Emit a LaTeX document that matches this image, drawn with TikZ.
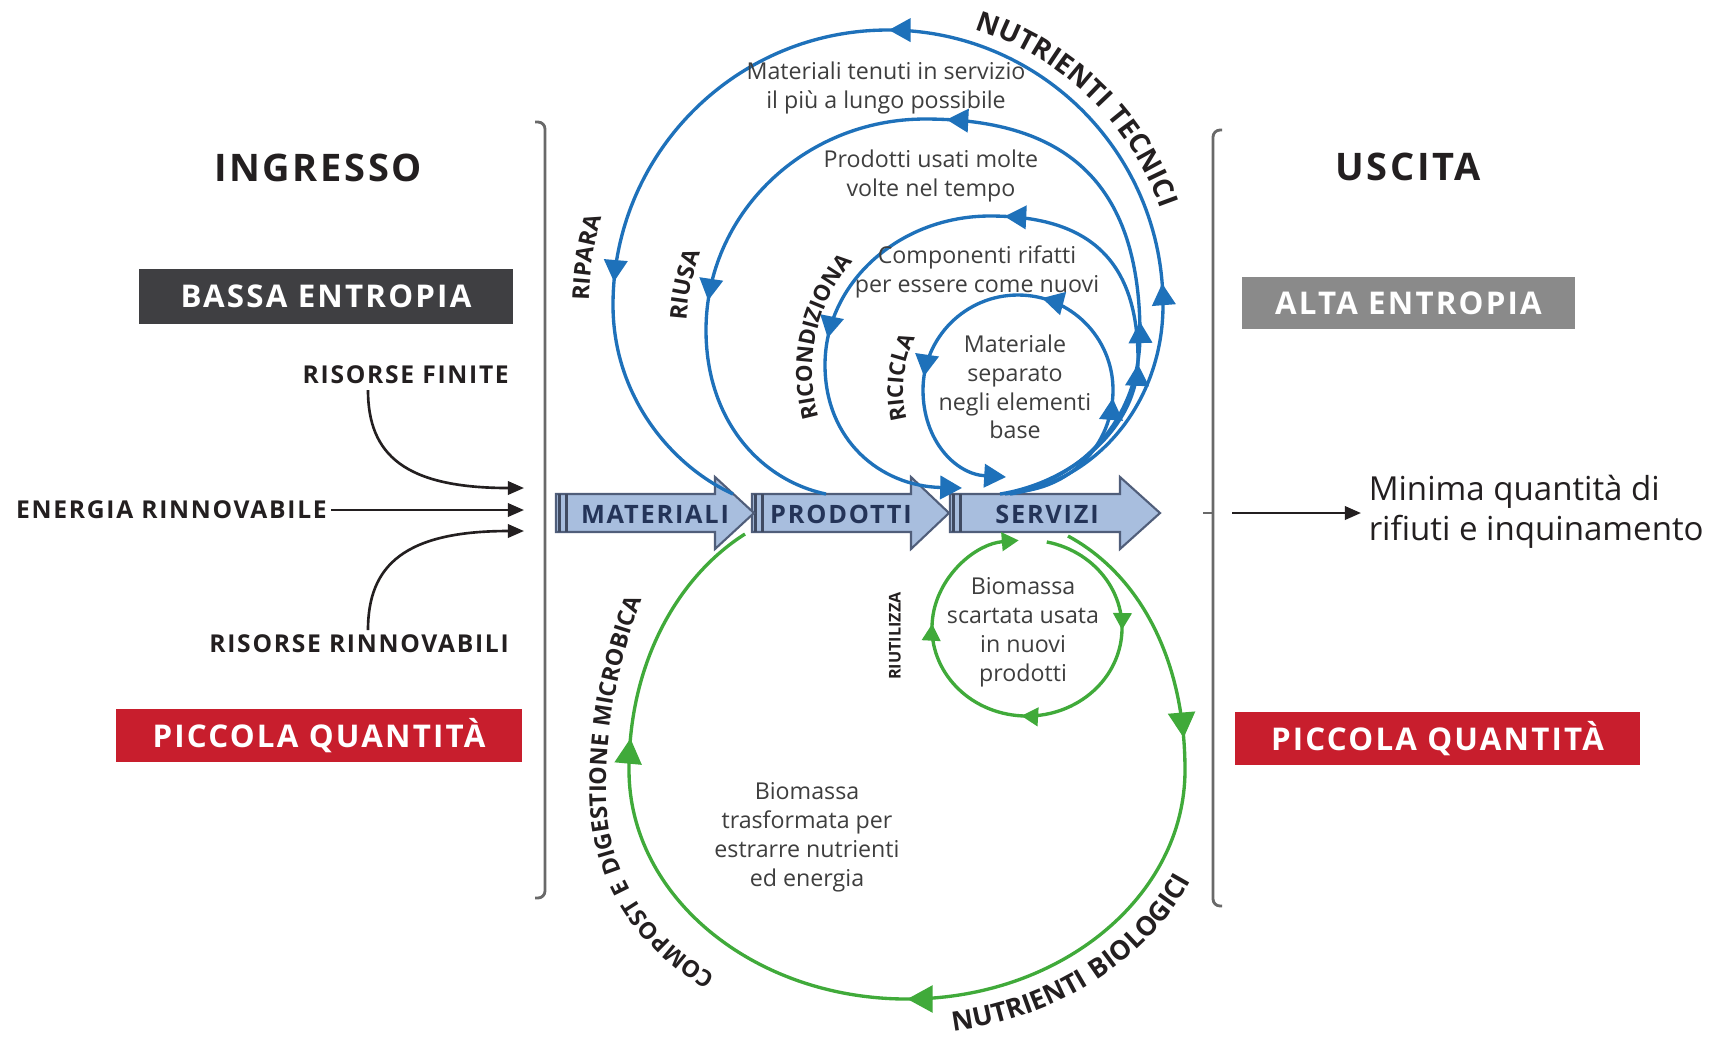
\documentclass[tikz,border=0pt]{standalone}
\usepackage{fontspec}
\setmainfont{Open Sans}
\newfontfamily\trackfont{Open Sans}[LetterSpace=7]
\usetikzlibrary{arrows.meta,decorations.markings,decorations.text}

\definecolor{loopblue}{RGB}{30,113,186}
\definecolor{loopgreen}{RGB}{64,170,58}
\definecolor{boxdark}{RGB}{63,63,66}
\definecolor{boxgray}{RGB}{138,138,138}
\definecolor{boxred}{RGB}{200,30,45}
\definecolor{arrowfill}{RGB}{168,190,222}
\definecolor{arrowedge}{RGB}{80,94,122}
\definecolor{arrowtext}{RGB}{36,52,88}
\definecolor{bracketgray}{RGB}{105,105,105}
\definecolor{desctext}{RGB}{62,62,62}
\definecolor{inktext}{RGB}{35,31,32}

\tikzset{
  bluetip/.tip={Triangle[length=6.2pt,width=6.6pt]},
  greentip/.tip={Triangle[length=7.2pt,width=7.6pt]},
  sgreentip/.tip={Triangle[length=4.8pt,width=5.2pt]},
  blacktip/.tip={Triangle[length=4.6pt,width=3.8pt]},
  blueloop/.style={loopblue, line width=0.95pt},
  greenloop/.style={loopgreen, line width=0.95pt},
  bmark/.style={postaction={decorate,decoration={markings,mark=at position #1 with {\arrow{bluetip}}}}},
  gmark/.style={postaction={decorate,decoration={markings,mark=at position #1 with {\arrow{greentip}}}}},
  sgmark/.style={postaction={decorate,decoration={markings,mark=at position #1 with {\arrow{sgreentip}}}}},
  inarrow/.style={inktext, line width=0.75pt, -{blacktip}},
  bracketline/.style={bracketgray, line width=0.8pt, rounded corners=2pt},
  headingtext/.style={font=\trackfont\bfseries\fontsize{10.8}{12}\selectfont, text=inktext},
  tagbox/.style={font=\trackfont\bfseries\fontsize{8.9}{10}\selectfont, text=white, inner sep=0pt},
  inlabel/.style={font=\trackfont\bfseries\fontsize{7}{8}\selectfont, text=inktext, inner sep=1pt},
  flowlabel/.style={font=\trackfont\bfseries\fontsize{7.2}{8}\selectfont, text=arrowtext, inner sep=0pt},
  flowarrow/.style={fill=arrowfill, draw=arrowedge, line width=0.6pt, line join=miter},
  flowbar/.style={arrowedge!80!black, line width=0.85pt},
  descnode/.style={font=\fontsize{6.6}{8.2}\selectfont, text=desctext, align=center, inner sep=0pt},
}

\begin{document}
\begin{tikzpicture}[x=0.01cm,y=0.01cm]
\useasboundingbox (0,0) rectangle (1721,-1038);
\fill[white] (0,0) rectangle (1721,-1038);

% ---------- headings and tags ----------
\node[headingtext] (ingresso) at (318,-168) {INGRESSO};
\node[headingtext] (uscita) at (1408,-167) {USCITA};
\node[tagbox, fill=boxdark, minimum width=3.74cm, minimum height=0.55cm] (bassa) at (326,-296.5) {BASSA ENTROPIA};
\node[tagbox, fill=boxgray, minimum width=3.33cm, minimum height=0.52cm] (alta) at (1408.5,-303) {ALTA ENTROPIA};
\node[tagbox, fill=boxred, minimum width=4.06cm, minimum height=0.53cm] (piccolaL) at (319,-735.5) {PICCOLA QUANTITÀ};
\node[tagbox, fill=boxred, minimum width=4.05cm, minimum height=0.53cm] (piccolaR) at (1437.5,-738.5) {PICCOLA QUANTITÀ};

% ---------- brackets ----------
\draw[bracketline] (535,-122) -- (545,-122) -- (545,-898) -- (535,-898);
\draw[bracketline] (1222,-130) -- (1213,-130) -- (1213,-906) -- (1222,-906);
\draw[bracketline] (1203,-513) -- (1213,-513);

% ---------- inputs ----------
\node[inlabel, anchor=east] (finite) at (513,-375) {RISORSE FINITE};
\node[inlabel, anchor=east] (energia) at (331,-510) {ENERGIA RINNOVABILE};
\node[inlabel, anchor=east] (rinnov) at (513,-644) {RISORSE RINNOVABILI};
\coordinate (finiteS) at (368,-390);
\coordinate (rinnovS) at (368,-630);
\coordinate (inA) at (524,-488);
\coordinate (inB) at (524,-510);
\coordinate (inC) at (524,-531);
\draw[inarrow] (finiteS) .. controls (368,-455) and (405,-488) .. (inA);
\draw[inarrow] (energia.east) -- (inB);
\draw[inarrow] (rinnovS) .. controls (368,-565) and (405,-531) .. (inC);

% ---------- output ----------
\node[font=\fontsize{9.4}{11.3}\selectfont, text=inktext, align=left, anchor=west, inner sep=2pt] (minima) at (1361,-512) {Minima quantità di\\rifiuti e inquinamento};
\coordinate (outS) at (1232,-513);
\draw[inarrow] (outS) -- (minima.west |- outS);

% ---------- flow arrows ----------
\draw[flowarrow] (950,-494) -- (1120,-494) -- (1120,-477) -- (1160,-513) -- (1120,-549) -- (1120,-532) -- (950,-532) -- cycle;
\draw[flowbar] (953,-494) -- (953,-532); \draw[flowbar] (960,-494) -- (960,-532);
\draw[flowarrow] (752,-494) -- (911,-494) -- (911,-477) -- (949,-513) -- (911,-549) -- (911,-532) -- (752,-532) -- cycle;
\draw[flowbar] (755,-494) -- (755,-532); \draw[flowbar] (762,-494) -- (762,-532);
\draw[flowarrow] (556,-494) -- (715,-494) -- (715,-477) -- (754,-513) -- (715,-549) -- (715,-532) -- (556,-532) -- cycle;
\draw[flowbar] (559,-494) -- (559,-532); \draw[flowbar] (566,-494) -- (566,-532);
\node[flowlabel] (materiali) at (655,-514) {MATERIALI};
\node[flowlabel] (prodotti) at (841,-514) {PRODOTTI};
\node[flowlabel] (servizi) at (1047,-514) {SERVIZI};

% ---------- technical loops ----------
\coordinate (t1s) at (1010,-494); \coordinate (t1e) at (733,-494);
\coordinate (t2s) at (1005,-494); \coordinate (t2e) at (826,-494);
\coordinate (t3s) at (1000,-494); \coordinate (t3e) at (962,-488);
\coordinate (t4s) at (1012,-492); \coordinate (t4e) at (1006,-477);
% ripara
\draw[blueloop, bmark=0.21, bmark=0.51, bmark=0.81]
  (t1s) .. controls (1100,-480) and (1163,-400) .. (1163,-305)
  arc[start angle=0, end angle=180, radius=275]
  .. controls (613,-395) and (670,-465) .. (t1e);
% riusa
\draw[blueloop, bmark=0.212, bmark=0.49, bmark=0.78]
  (t2s) .. controls (1085,-480) and (1140,-415) .. (1140,-335)
  .. controls (1140,-188) and (1071,-119) .. (925,-119)
  .. controls (804,-119) and (706,-214) .. (706,-330)
  .. controls (706,-420) and (760,-480) .. (t2e);
% ricondiziona
\draw[blueloop, -{bluetip}, bmark=0.227, bmark=0.48, bmark=0.74]
  (t3s) .. controls (1075,-482) and (1138,-425) .. (1138,-360)
  .. controls (1138,-262) and (1091,-216) .. (990,-216)
  .. controls (899,-216) and (825,-283) .. (825,-365)
  .. controls (825,-440) and (880,-486) .. (t3e);
% ricicla
\draw[blueloop, -{bluetip}, bmark=0.255, bmark=0.48, bmark=0.75]
  (t4s) .. controls (1070,-490) and (1113,-445) .. (1113,-390)
  arc[start angle=0, end angle=180, radius=95]
  .. controls (923,-440) and (955,-474) .. (t4e);

% ---------- biological loops ----------
\coordinate (b1s) at (1068,-536); \coordinate (b1e) at (745,-534);
\draw[greenloop, gmark=0.18, gmark=0.5, gmark=0.82]
  (b1s) .. controls (1140,-575) and (1185,-660) .. (1185,-770)
  arc[start angle=0, end angle=-180, x radius=278, y radius=229]
  .. controls (629,-660) and (680,-575) .. (b1e);
\draw[greenloop, -{sgreentip}, sgmark=0.23, sgmark=0.5, sgmark=0.76]
  (1027,-628) ++(78:95 and 88) arc[start angle=78, end angle=-265, x radius=95, y radius=88];

% ---------- descriptions ----------
\node[descnode] (d1) at (886,-88) {Materiali tenuti in servizio\\il più a lungo possibile};
\node[descnode] (d2) at (931,-176) {Prodotti usati molte\\volte nel tempo};
\node[descnode] (d3) at (977,-272) {Componenti rifatti\\per essere come nuovi};
\node[descnode] (d4) at (1015,-387) {Materiale\\separato\\negli elementi\\base};
\node[descnode] (d5) at (1023,-632) {Biomassa\\scartata usata\\in nuovi\\prodotti};
\node[descnode] (d6) at (807,-837) {Biomassa\\trasformata per\\estrarre nutrienti\\ed energia};

% ---------- curved labels ----------
\path[decorate, decoration={text along path, text align=center, text color=inktext,
  text={|\trackfont\bfseries\fontsize{7.9}{9}\selectfont|NUTRIENTI TECNICI}}]
  (888,-305) ++(96:289) arc[start angle=96, end angle=-4, radius=289];
\path[decorate, decoration={text along path, text align=center, text color=inktext,
  text={|\trackfont\bfseries\fontsize{6.6}{8}\selectfont|RIPARA}}]
  (888,-305) ++(201:299) arc[start angle=201, end angle=141, radius=299];
\path[decorate, decoration={text along path, text align=center, text color=inktext,
  text={|\trackfont\bfseries\fontsize{6.6}{8}\selectfont|RIUSA}}]
  (922,-335) ++(198:236) arc[start angle=198, end angle=138, radius=236];
\path[decorate, decoration={text along path, text align=center, text color=inktext,
  text={|\trackfont\bfseries\fontsize{6.3}{8}\selectfont|RICONDIZIONA}}]
  (978,-371) ++(217.5:166) arc[start angle=217.5, end angle=117.5, radius=166];
\path[decorate, decoration={text along path, text align=center, text color=inktext,
  text={|\trackfont\bfseries\fontsize{6.2}{8}\selectfont|RICICLA}}]
  (1018,-390) ++(214:115) arc[start angle=214, end angle=134, radius=115];
\path[decorate, decoration={text along path, text align=left, text color=inktext,
  text={|\trackfont\bfseries\fontsize{6.6}{8}\selectfont|COMPOST E DIGESTIONE MICROBICA}}]
  (716,-975) .. controls (645,-935) and (606,-870) .. (606,-790)
  .. controls (606,-705) and (625,-635) .. (662,-550);
\path[decorate, decoration={text along path, text align=center, text color=inktext,
  text={|\trackfont\bfseries\fontsize{7.6}{9}\selectfont|NUTRIENTI BIOLOGICI}}]
  (907,-770) ++(-101:313 and 264) arc[start angle=-101, end angle=-2, x radius=313, y radius=264];
\node[font=\bfseries\fontsize{4.6}{5}\selectfont, text=inktext, rotate=90, inner sep=0pt] (riutilizza) at (895,-636) {RIUTILIZZA};
\end{tikzpicture}
\end{document}
